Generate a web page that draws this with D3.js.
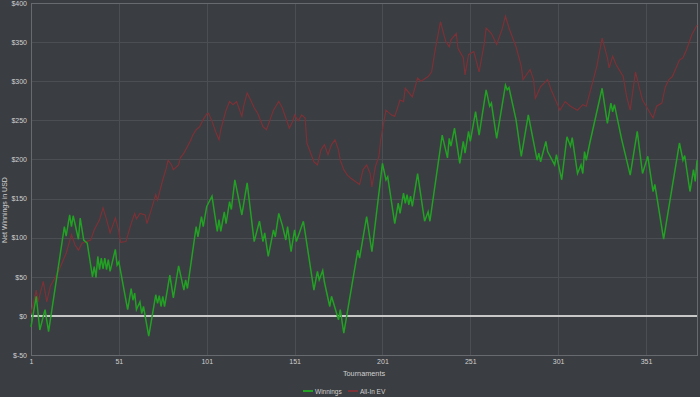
<!DOCTYPE html>
<html>
<head>
<meta charset="utf-8">
<script src="https://cdnjs.cloudflare.com/ajax/libs/d3/7.8.5/d3.min.js"></script>
<style>
  body { margin: 0; background: #3a3d41; }
  svg { display: block; font-family: "Liberation Sans", Arial, sans-serif; }
</style>
</head>
<body>
<div id="chart"></div>
<script>
// turning points (tournament number, cumulative $)
var winTourney = [1,4,6,9,11,20,21,23,24,25,28,29,31,33,36,37,38,39,40,41,42,43,44,45,46,49,50,51,56,58,59,60,61,63,64,65,68,72,73,74,75,76,77,80,82,85,88,89,90,95,96,98,99,101,104,107,108,109,111,112,114,115,117,121,124,128,131,133,134,136,139,140,142,144,146,147,149,151,152,154,156,162,164,165,167,168,171,172,174,176,177,179,187,188,192,195,201,203,204,208,210,211,213,214,215,216,217,218,221,225,227,228,235,238,239,240,242,245,247,248,250,251,254,256,260,262,263,266,271,272,273,277,280,284,289,290,291,294,295,299,300,303,306,308,309,312,314,315,316,317,319,326,329,331,332,333,337,342,346,349,352,355,356,361,370,372,373,376,378,379,380];
var winValues = [-14,25,-18,8,-20,114,102,129,114,128,98,125,97,93,50,63,49,76,59,74,60,74,59,72,57,85,65,69,8,35,20,29,8,18,3,12,-26,27,16,26,12,25,12,52,23,64,33,46,35,114,101,127,114,140,153,108,123,108,133,118,146,136,174,129,170,95,121,95,106,76,110,101,131,116,97,114,82,110,95,108,121,33,57,46,58,43,12,25,10,-5,8,-22,84,74,127,82,195,174,178,118,144,131,157,144,155,142,153,140,182,121,133,121,231,202,227,217,240,195,223,208,236,223,261,231,289,268,272,227,295,289,292,251,204,257,199,208,197,223,210,193,206,174,229,217,228,182,193,182,210,199,221,291,246,272,261,270,227,180,236,182,204,159,168,98,221,199,205,159,187,172,199];

var evTourney = [1,4,5,8,10,12,14,17,21,24,26,28,30,35,37,40,42,44,46,49,51,52,55,58,60,61,63,66,67,70,72,73,76,78,79,81,82,85,86,88,92,93,95,97,99,101,102,104,106,108,109,112,114,116,118,121,122,124,126,128,130,133,135,139,142,144,146,148,150,151,153,155,157,158,162,164,166,168,170,172,174,176,177,179,181,183,188,190,192,194,195,197,199,200,203,206,208,211,213,214,218,221,223,227,229,231,234,237,239,240,243,244,246,247,248,250,253,256,259,260,263,266,269,271,273,277,280,281,285,287,288,291,295,297,302,305,308,312,315,317,323,326,329,330,332,334,338,340,342,345,347,349,355,357,360,362,364,366,370,372,374,377,380];
var evValues = [3,33,18,44,18,38,46,59,80,104,91,84,93,97,110,123,138,123,106,125,108,94,95,118,131,124,131,129,118,140,155,148,174,189,199,193,187,193,202,208,225,231,238,242,251,258,259,249,236,225,238,263,274,270,274,255,268,285,276,266,259,242,238,263,274,266,253,240,249,257,249,257,253,221,197,193,212,219,206,219,225,212,199,187,180,176,168,187,193,182,165,191,204,225,263,257,255,276,274,291,280,304,300,306,312,340,376,351,344,353,361,342,334,330,308,334,338,312,349,368,361,347,366,383,368,344,319,302,315,302,278,293,302,289,263,274,268,263,270,268,319,355,330,317,332,321,306,280,263,312,293,276,253,268,272,293,302,306,327,330,340,359,372];

var xTicks = [1,51,101,151,201,251,301,351];
var yTicks = [-50,0,50,100,150,200,250,300,350,400];

var width = 700, height = 397;
var plotLeft = 31, plotRight = 697, plotTop = 3, plotBottom = 355;

var svg = d3.select("#chart").append("svg")
    .attr("width", width)
    .attr("height", height);

svg.append("rect")
    .attr("width", width).attr("height", height)
    .attr("fill", "#3a3d41");

var x = d3.scaleLinear().domain([1, 380]).range([plotLeft, plotRight]);
var y = d3.scaleLinear().domain([-50, 400]).range([plotBottom, plotTop]);

// grid
svg.append("g").selectAll("line")
    .data(yTicks).enter().append("line")
    .attr("x1", plotLeft).attr("x2", plotRight)
    .attr("y1", function (d) { return Math.round(y(d)) + 0.5; })
    .attr("y2", function (d) { return Math.round(y(d)) + 0.5; })
    .attr("stroke", "#4b4f54").attr("stroke-width", 1);

svg.append("g").selectAll("line")
    .data(xTicks).enter().append("line")
    .attr("x1", function (d) { return Math.round(x(d)) + 0.5; })
    .attr("x2", function (d) { return Math.round(x(d)) + 0.5; })
    .attr("y1", plotTop).attr("y2", plotBottom)
    .attr("stroke", "#4b4f54").attr("stroke-width", 1);

// frame
svg.append("rect")
    .attr("x", plotLeft + 0.5).attr("y", plotTop + 0.5)
    .attr("width", plotRight - plotLeft).attr("height", plotBottom - plotTop)
    .attr("fill", "none").attr("stroke", "#676b70").attr("stroke-width", 1);

// axes labels
var yAxis = d3.axisLeft(y).tickValues(yTicks).tickSize(0).tickPadding(4)
    .tickFormat(function (d) { return "$" + d; });
var gy = svg.append("g").attr("transform", "translate(" + plotLeft + ",0)").call(yAxis);
gy.select(".domain").remove();
gy.selectAll("text").attr("fill", "#d0d0d0").style("font-size", "7px")
    .style("font-family", "Liberation Sans, Arial, sans-serif");

var xAxis = d3.axisBottom(x).tickValues(xTicks).tickSize(0).tickPadding(4);
var gx = svg.append("g").attr("transform", "translate(0," + plotBottom + ")").call(xAxis);
gx.select(".domain").remove();
gx.selectAll("text").attr("fill", "#d0d0d0").style("font-size", "7px")
    .style("font-family", "Liberation Sans, Arial, sans-serif");

svg.append("text")
    .attr("x", 364).attr("y", 376)
    .attr("text-anchor", "middle")
    .attr("fill", "#d0d0d0").style("font-size", "7.3px")
    .text("Tournaments");

svg.append("text")
    .attr("transform", "translate(7,210) rotate(-90)")
    .attr("text-anchor", "middle")
    .attr("fill", "#d0d0d0").style("font-size", "7px")
    .text("Net Winnings in USD");

// zero line
svg.append("line")
    .attr("x1", plotLeft).attr("x2", plotRight)
    .attr("y1", y(0)).attr("y2", y(0))
    .attr("stroke", "#c8c8c8").attr("stroke-width", 2);

var line = d3.line()
    .x(function (d) { return x(d[0]); })
    .y(function (d) { return y(d[1]); });

var evData = d3.zip(evTourney, evValues);
var winData = d3.zip(winTourney, winValues);

svg.append("path")
    .datum(evData)
    .attr("d", line)
    .attr("fill", "none")
    .attr("stroke", "#7c3137")
    .attr("stroke-width", 1.2);

svg.append("path")
    .datum(winData)
    .attr("d", line)
    .attr("fill", "none")
    .attr("stroke", "#22a124")
    .attr("stroke-width", 1.5);

// legend
var legend = [
    {name: "Winnings", color: "#22a124", x: 303},
    {name: "All-In EV", color: "#7c3137", x: 348}
];
var lg = svg.append("g").selectAll("g")
    .data(legend).enter().append("g");
lg.append("line")
    .attr("x1", function (d) { return d.x; })
    .attr("x2", function (d) { return d.x + 10; })
    .attr("y1", 391).attr("y2", 391)
    .attr("stroke", function (d) { return d.color; })
    .attr("stroke-width", 2);
lg.append("text")
    .attr("x", function (d) { return d.x + 12; })
    .attr("y", 393.5)
    .attr("fill", "#d0d0d0").style("font-size", "6.5px")
    .text(function (d) { return d.name; });
</script>
</body>
</html>
